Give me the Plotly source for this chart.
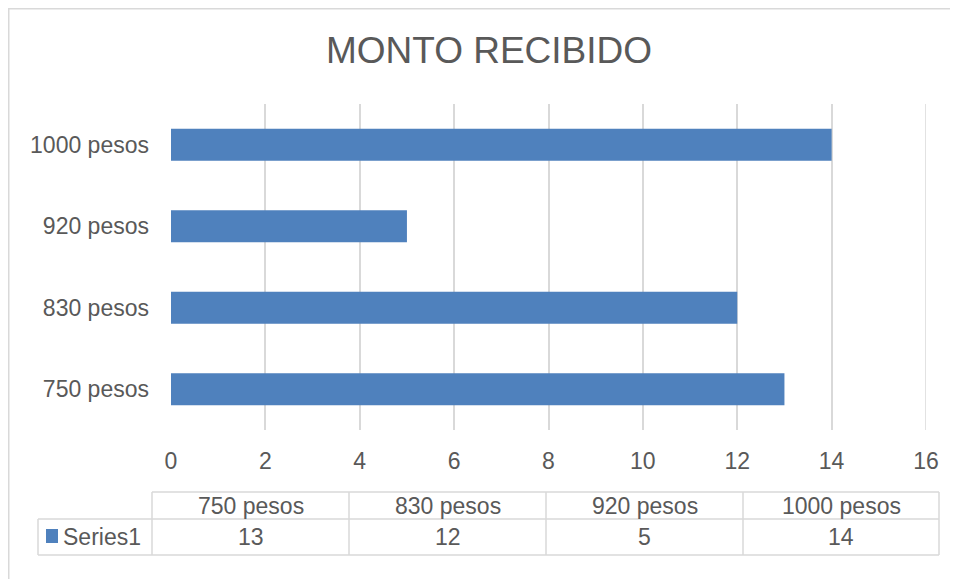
import plotly.graph_objects as go

# chart data
categories = ["750 pesos", "830 pesos", "920 pesos", "1000 pesos"]
values = [13, 12, 5, 14]
series_name = "Series1"
title_text = "MONTO RECIBIDO"
x_ticks = [0, 2, 4, 6, 8, 10, 12, 14, 16]

BAR = "#4F81BD"
TXT = "#595959"
GRID = "#D9D9D9"
FONT = "Liberation Sans, Arial, sans-serif"

# page body has an 8px margin, so the figure sits at (8, 8)
OFF = 8
W, H = 958 - OFF, 579 - OFF
# plot area in screen pixels
L, R, T, B = 171, 926, 104, 430


def px(x):
    return (x - L) / (R - L)


def py(y):
    return (B - y) / (B - T)


fig = go.Figure()
fig.add_trace(go.Bar(
    y=categories,
    x=values,
    orientation="h",
    marker=dict(color=BAR, line=dict(width=0)),
    width=0.39,
    name=series_name,
    showlegend=False,
))

shapes = []
annotations = []

# chart border
shapes.append(dict(type="rect", xref="paper", yref="paper",
                   x0=px(OFF + 0.75), x1=px(980), y0=py(OFF + 0.75), y1=py(620),
                   line=dict(color=GRID, width=1.5), layer="below"))

# last gridline at the right edge of the plot area
shapes.append(dict(type="line", xref="x", yref="paper",
                   x0=x_ticks[-1], x1=x_ticks[-1], y0=0, y1=1,
                   line=dict(color=GRID, width=1.5), layer="below"))

# data table
col_x = [152, 349, 546, 743, 939]
row_y = [492, 519, 555]
label_x0 = 38
line = dict(color=GRID, width=1.5)
# horizontal lines
shapes.append(dict(type="line", xref="paper", yref="paper",
                   x0=px(col_x[0]), x1=px(col_x[-1]), y0=py(row_y[0]), y1=py(row_y[0]), line=line))
for yy in row_y[1:]:
    shapes.append(dict(type="line", xref="paper", yref="paper",
                       x0=px(label_x0), x1=px(col_x[-1]), y0=py(yy), y1=py(yy), line=line))
# vertical lines
shapes.append(dict(type="line", xref="paper", yref="paper",
                   x0=px(label_x0), x1=px(label_x0), y0=py(row_y[1]), y1=py(row_y[2]), line=line))
for xx in col_x:
    shapes.append(dict(type="line", xref="paper", yref="paper",
                       x0=px(xx), x1=px(xx), y0=py(row_y[0]), y1=py(row_y[2]), line=line))

for i, (cat, val) in enumerate(zip(categories, values)):
    cx = (col_x[i] + col_x[i + 1]) / 2
    annotations.append(dict(xref="paper", yref="paper", x=px(cx), y=py((row_y[0] + row_y[1]) / 2),
                            text=cat, showarrow=False, xanchor="center", yanchor="middle",
                            font=dict(size=23, color=TXT, family=FONT)))
    annotations.append(dict(xref="paper", yref="paper", x=px(cx), y=py((row_y[1] + row_y[2]) / 2),
                            text=str(val), showarrow=False, xanchor="center", yanchor="middle",
                            font=dict(size=23, color=TXT, family=FONT)))

# legend key + series name
shapes.append(dict(type="rect", xref="paper", yref="paper",
                   x0=px(46), x1=px(58), y0=py(543), y1=py(529),
                   fillcolor=BAR, line=dict(width=0)))
annotations.append(dict(xref="paper", yref="paper", x=px(61), y=py(537),
                        text=series_name, showarrow=False, xanchor="left", yanchor="middle",
                        font=dict(size=23, color=TXT, family=FONT)))

fig.update_layout(
    width=W,
    height=H,
    margin=dict(l=L - OFF, r=958 - R, t=T - OFF, b=579 - B),
    paper_bgcolor="white",
    plot_bgcolor="white",
    font=dict(family=FONT, color=TXT, size=23),
    title=dict(text=title_text, x=(489 - OFF) / W, xanchor="center", xref="container",
               y=1 - (50 - OFF) / H, yanchor="middle",
               font=dict(size=37, color=TXT, family=FONT)),
    xaxis=dict(range=[0, 16], tickvals=x_ticks, showgrid=True, gridcolor=GRID, gridwidth=1.5,
               zeroline=False, showline=False, ticks="", ticklabelstandoff=15,
               tickfont=dict(size=23, color=TXT)),
    yaxis=dict(showgrid=False, zeroline=False, showline=False, ticks="",
               ticklabelstandoff=21, tickfont=dict(size=23, color=TXT)),
    shapes=shapes,
    annotations=annotations,
)

fig.write_html("out.html")
